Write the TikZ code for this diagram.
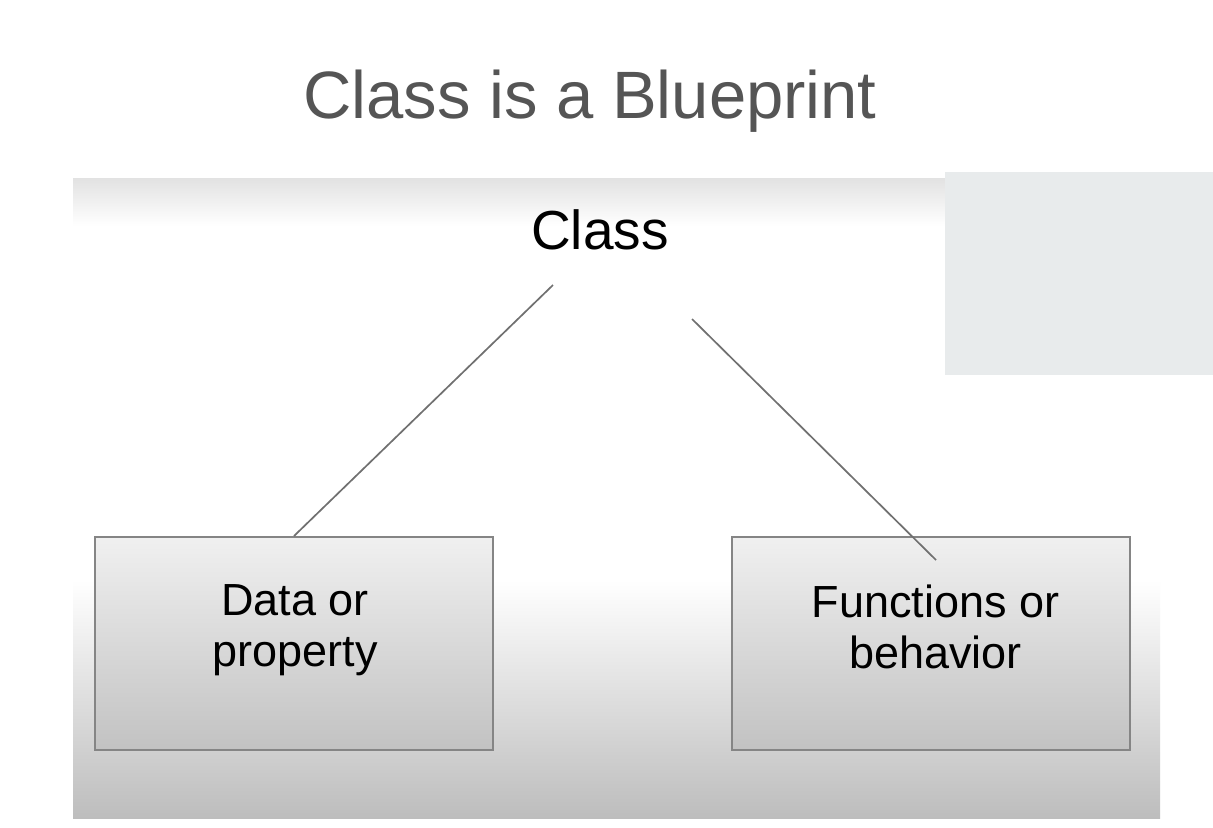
\documentclass[tikz,border=0pt]{standalone}
\usepackage{fontspec}
\setmainfont{Liberation Sans}
\usetikzlibrary{positioning,calc}

\definecolor{titlegray}{HTML}{555555}
\definecolor{paneltop}{HTML}{E2E2E2}
\definecolor{panelbottom}{HTML}{BDBDBD}
\definecolor{sidegray}{HTML}{E8EBEC}
\definecolor{boxtop}{HTML}{F0F0F0}
\definecolor{boxbottom}{HTML}{C2C2C2}
\definecolor{boxedge}{HTML}{858585}
\definecolor{linkgray}{HTML}{707070}

\begin{document}
\begin{tikzpicture}[x=0.5pt, y=-0.5pt,
    partbox/.style={draw=boxedge, line width=1pt, top color=boxtop, bottom color=boxbottom,
        minimum width=199pt, minimum height=106.5pt, inner sep=0pt},
    parttext/.style={font=\fontsize{22.5}{25.5}\selectfont, align=center, inner sep=0pt, anchor=north},
    link/.style={draw=linkgray, line width=0.85pt}]
    % page and panel
    \fill[white] (0,0) rectangle (1213,827);
    \useasboundingbox (0,0) rectangle (1213,827);
    \shade[top color=paneltop, bottom color=white] (73,178) rectangle (1160,226);
    \shade[top color=white, bottom color=panelbottom] (73,580) rectangle (1160,818);
    \fill[sidegray] (945,172) rectangle (1213,375);

    % Title
    \node[font=\fontsize{33.5}{40}\selectfont, text=titlegray, anchor=base] (title) at (590,118) {Class is a Blueprint};

    % Class
    \node[font=\fontsize{27.5}{33}\selectfont, anchor=base] (classTxt) at (600,249) {Class};
    \coordinate (classL) at (553,285);
    \coordinate (classR) at (692,319);

    % Parts
    \node[partbox] (dataBox) at (294,643.5) {};
    \node[partbox] (funcBox) at (930.5,643.5) {};
    \node[parttext] (dataTxt) at ($(dataBox.north)+(1,48)$) {Data or\\property};
    \node[parttext] (funcTxt) at ($(funcBox.north)+(5,48)$) {Functions or\\behavior};
    \coordinate (funcEnd) at (936,560);

    % Links
    \draw[link] (classL) -- (dataBox.north);
    \draw[link] (classR) -- (funcEnd);
\end{tikzpicture}
\end{document}
